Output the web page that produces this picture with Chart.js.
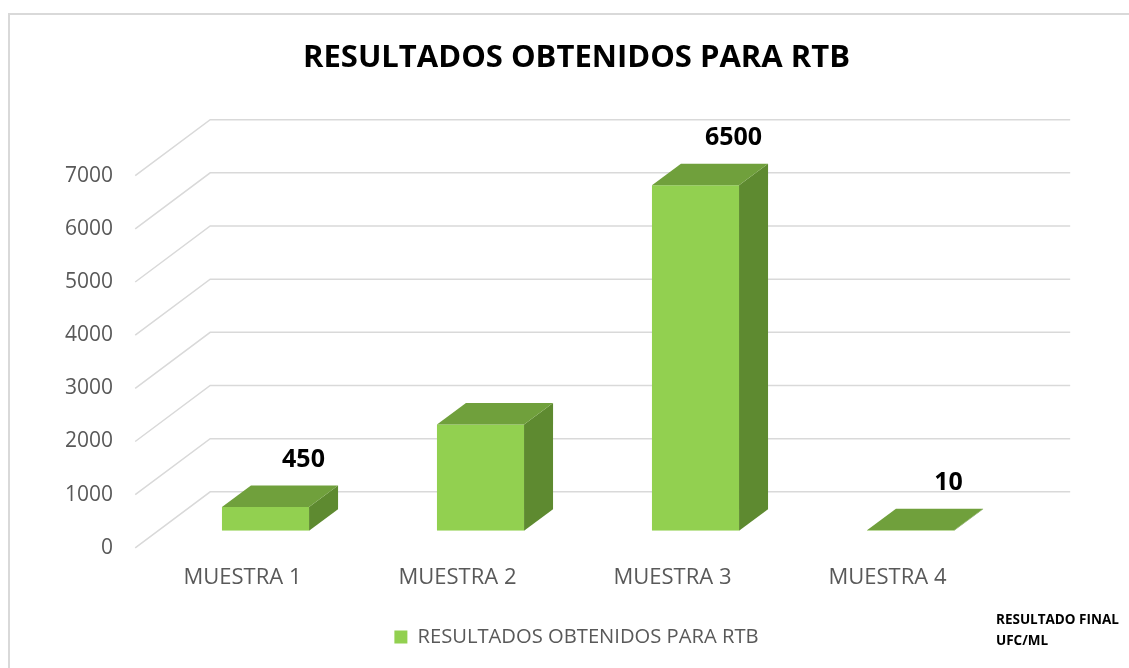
<!DOCTYPE html>
<html>
<head>
<meta charset="utf-8">
<script src="https://cdn.jsdelivr.net/npm/chart.js@4/dist/chart.umd.min.js"></script>
<style>
  html, body { margin: 0; padding: 0; background: #ffffff; overflow: hidden; width: 1129px; height: 668px; }
  #wrap { position: absolute; left: 8px; top: 13px; width: 1137px; height: 655px; }
</style>
</head>
<body>
<div id="wrap"><canvas id="c" width="1137" height="655"></canvas></div>
<script>
const chartTitle = 'RESULTADOS OBTENIDOS PARA RTB';
const seriesName = 'RESULTADOS OBTENIDOS PARA RTB';
const categories = ['MUESTRA 1', 'MUESTRA 2', 'MUESTRA 3', 'MUESTRA 4'];
const values = [450, 2000, 6500, 10];
const valueLabels = ['450', '', '6500', '10'];
const yMin = 0;
const yMax = 7000;
const yStep = 1000;
const axisNote = ['RESULTADO FINAL', 'UFC/ML'];

const FRONT = '#92d050', TOP = '#70a03c', SIDE = '#5e8a30';
const GRID = '#d9d9d9';
// 3D geometry (pixels)
const FLOOR_DX = 75, FLOOR_DY = 56;   // full floor depth
const BAR_OFF_X = 22.8, BAR_OFF_Y = 17; // bar front plane offset from front edge
const BAR_DX = 29, BAR_DY = 21.5;      // bar depth

Chart.defaults.font.family = "'Open Sans', sans-serif";

const threeD = {
  id: 'threeD',
  beforeDraw(chart) {
    const ctx = chart.ctx;
    ctx.save();
    ctx.fillStyle = GRID;
    ctx.fillRect(0, 0, 2, chart.height);
    ctx.fillRect(0, 0, chart.width, 2);
    ctx.restore();
  },
  beforeDatasetsDraw(chart) {
    const ctx = chart.ctx, ya = chart.scales.y, ca = chart.chartArea;
    ctx.save();
    ctx.strokeStyle = GRID;
    ctx.lineWidth = 1.5;
    const fl = ca.left - BAR_OFF_X;
    const bl = fl + FLOOR_DX;
    const br = ca.right - BAR_OFF_X + FLOOR_DX;
    ya.ticks.forEach(t => {
      const fy = ya.getPixelForValue(t.value) + BAR_OFF_Y;
      const by = fy - FLOOR_DY;
      ctx.beginPath();
      ctx.moveTo(fl, fy);
      ctx.lineTo(bl, by);
      ctx.lineTo(br, by);
      ctx.stroke();
    });
    ctx.restore();
  },
  afterDatasetsDraw(chart) {
    const ctx = chart.ctx;
    const meta = chart.getDatasetMeta(0);
    ctx.save();
    meta.data.forEach((bar, i) => {
      const p = bar.getProps(['x', 'y', 'base', 'width'], true);
      const l = p.x - p.width / 2, r = p.x + p.width / 2;
      const top = Math.min(p.y, p.base), bot = Math.max(p.y, p.base);
      // side face
      ctx.fillStyle = SIDE;
      ctx.beginPath();
      ctx.moveTo(r, top); ctx.lineTo(r, bot);
      ctx.lineTo(r + BAR_DX, bot - BAR_DY); ctx.lineTo(r + BAR_DX, top - BAR_DY);
      ctx.closePath(); ctx.fill();
      // top face
      ctx.fillStyle = TOP;
      ctx.beginPath();
      ctx.moveTo(l, top); ctx.lineTo(r, top);
      ctx.lineTo(r + BAR_DX, top - BAR_DY); ctx.lineTo(l + BAR_DX, top - BAR_DY);
      ctx.closePath(); ctx.fill();
      // value label
      if (valueLabels[i]) {
        ctx.fillStyle = '#000000';
        ctx.font = "bold 25px 'Open Sans', sans-serif";
        ctx.textAlign = 'center';
        ctx.textBaseline = 'middle';
        ctx.fillText(valueLabels[i], p.x + 38, top - 47);
      }
    });
    // axis note
    ctx.fillStyle = '#000000';
    ctx.font = "bold 13.5px 'Open Sans', sans-serif";
    ctx.textAlign = 'left';
    ctx.textBaseline = 'middle';
    ctx.fillText(axisNote[0], chart.width - 149, 607);
    ctx.fillText(axisNote[1], chart.width - 149, 628);
    ctx.restore();
  }
};

new Chart(document.getElementById('c'), {
  type: 'bar',
  data: {
    labels: categories,
    datasets: [{
      label: seriesName,
      data: values,
      backgroundColor: FRONT,
      borderWidth: 0,
      categoryPercentage: 1,
      barPercentage: 0.405,
      yAxisID: 'y'
    }]
  },
  options: {
    responsive: false,
    animation: false,
    layout: { padding: { left: 50, right: 50, top: 0, bottom: 11 } },
    plugins: {
      title: {
        display: true,
        text: chartTitle,
        color: '#000000',
        font: { size: 31, weight: 'bold', family: "'Open Sans', sans-serif", lineHeight: 1.2 },
        padding: { top: 27, bottom: 81.5 }
      },
      legend: {
        display: true,
        position: 'bottom',
        labels: {
          color: '#595959',
          font: { size: 20.2 },
          boxWidth: 13,
          boxHeight: 13,
          padding: 10
        }
      },
      tooltip: { enabled: false }
    },
    scales: {
      x: {
        grid: { display: false, drawTicks: false },
        border: { display: false },
        ticks: { color: '#595959', font: { size: 22 }, padding: 34, labelOffset: -23, maxRotation: 0 },
        afterFit(s) { s.height = 86; }
      },
      y: {
        position: 'left',
        min: yMin, max: yMax,
        grid: { display: false, drawTicks: false },
        border: { display: false },
        ticks: {
          stepSize: yStep, color: '#595959', font: { size: 21 }, padding: 45, labelOffset: 17,
          callback: v => String(v)
        },
        afterFit(s) { s.width = 100; }
      },
      y2: {
        type: 'linear',
        position: 'right',
        min: yMin, max: yMax,
        grid: { display: false, drawTicks: false },
        border: { display: false },
        ticks: { display: false },
        afterFit(s) { s.width = 77; }
      }
    }
  },
  plugins: [threeD]
});
</script>
</body>
</html>
